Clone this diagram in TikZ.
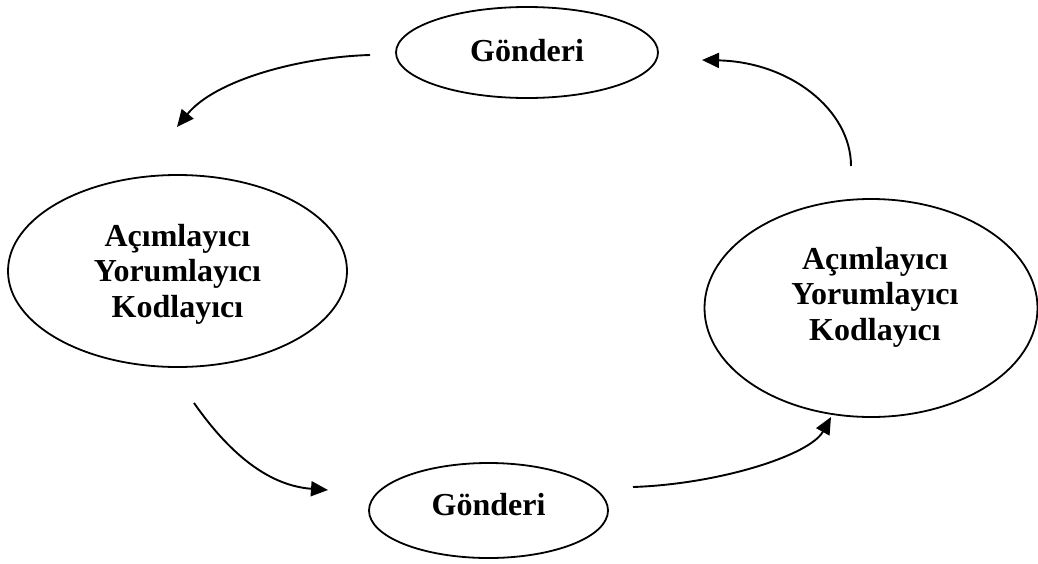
\documentclass[tikz,border=0pt]{standalone}
\usepackage{fontspec}
\setmainfont{Liberation Serif}
\usetikzlibrary{shapes.geometric,arrows.meta}

\begin{document}
\begin{tikzpicture}[x=1pt,y=-1pt,
    oval/.style={draw, ellipse, line width=1.8pt, inner sep=0pt},
    lbl/.style={align=center, font=\fontsize{32}{35.5}\selectfont\bfseries},
    flow/.style={line width=1.9pt, -{Triangle[length=17pt,width=15pt]}}]
  \useasboundingbox (0,0) rectangle (1038,563);

  % message ovals
  \node[oval, minimum width=262, minimum height=91] (g1) at (527,52.5) {};
  \node[oval, minimum width=239, minimum height=95] (g2) at (488.5,510.5) {};
  % interpreter ovals
  \node[oval, minimum width=339, minimum height=192] (p1) at (177.5,271) {};
  \node[oval, minimum width=333, minimum height=218] (p2) at (871,308) {};

  % texts
  \node[lbl] (tg1) at ([yshift=2]g1.center) {Gönderi};
  \node[lbl] (tg2) at ([yshift=6]g2.center) {Gönderi};
  \node[lbl] (tp1) at ([yshift=-3]p1.center) {Açımlayıcı\\Yorumlayıcı\\Kodlayıcı};
  \node[lbl] (tp2) at ([xshift=4,yshift=11]p2.center) {Açımlayıcı\\Yorumlayıcı\\Kodlayıcı};

  % connector end points
  \coordinate (a1s) at (370,55);   \coordinate (a1e) at (177,127);
  \coordinate (a2s) at (851,166);  \coordinate (a2e) at (702,60);
  \coordinate (a3s) at (194,403);  \coordinate (a3e) at (328,490);
  \coordinate (a4s) at (633,487);  \coordinate (a4e) at (831,417);

  % cycle of arrows
  \draw[flow] (a1s) .. controls (300,57) and (215,80) .. (a1e);
  \draw[flow] (a2s) .. controls (851,110) and (790,62) .. (a2e);
  \draw[flow] (a3s) .. controls (220,440) and (260,485) .. (a3e);
  \draw[flow] (a4s) .. controls (720,484) and (810,455) .. (a4e);
\end{tikzpicture}
\end{document}
